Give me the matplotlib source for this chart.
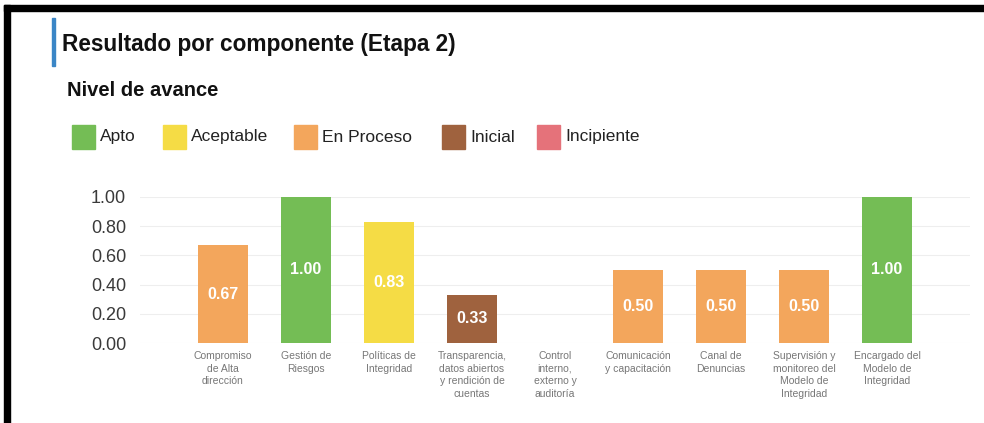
import matplotlib
matplotlib.use("Agg")
import matplotlib.pyplot as plt
from matplotlib.patches import Rectangle

W, H = 984, 423
categories = ["Compromiso\nde Alta\ndirección", "Gestión de\nRiesgos", "Políticas de\nIntegridad",
              "Transparencia,\ndatos abiertos\ny rendición de\ncuentas", "Control\ninterno,\nexterno y\nauditoría",
              "Comunicación\ny capacitación", "Canal de\nDenuncias",
              "Supervisión y\nmonitoreo del\nModelo de\nIntegridad", "Encargado del\nModelo de\nIntegridad"]
values = [0.67, 1.00, 0.83, 0.33, 0.0, 0.50, 0.50, 0.50, 1.00]
levels = ["En Proceso", "Apto", "Aceptable", "Inicial", "Incipiente", "En Proceso", "En Proceso", "En Proceso", "Apto"]
legend_labels = ["Apto", "Aceptable", "En Proceso", "Inicial", "Incipiente"]
legend_colors = ["#74bd55", "#f5dc45", "#f3a65c", "#9f623e", "#e5727a"]
yticks = [0.0, 0.2, 0.4, 0.6, 0.8, 1.0]
color_map = dict(zip(legend_labels, legend_colors))

plt.rcParams['font.family'] = ['Liberation Sans', 'DejaVu Sans']
fig = plt.figure(figsize=(W / 100, H / 100), dpi=100)

def fx(x):
    return x / W

def fy(y):
    return 1 - y / H

# scan border
fig.patches.append(Rectangle((fx(4), fy(11)), fx(980), 6 / H, transform=fig.transFigure,
                             color="black", zorder=10))
fig.patches.append(Rectangle((fx(4), 0), 6 / W, fy(5), transform=fig.transFigure,
                             color="black", zorder=10))
# blue accent
fig.patches.append(Rectangle((fx(52), fy(66)), 3 / W, 48 / H, transform=fig.transFigure,
                             color="#3b86c6", zorder=10))

fig.text(fx(62), fy(45), "Resultado por componente (Etapa 2)", fontsize=16.3, fontweight="bold",
         va="center", ha="left", color="#111111")
fig.text(fx(67), fy(90), "Nivel de avance", fontsize=14.5, fontweight="bold",
         va="center", ha="left", color="#111111")

# legend
leg_x = [72, 163, 294, 442, 537]
for lx, lab, col in zip(leg_x, legend_labels, legend_colors):
    fig.patches.append(Rectangle((fx(lx), fy(149)), 23 / W, 24 / H, transform=fig.transFigure,
                                 color=col))
    fig.text(fx(lx + 28), fy(137), lab, fontsize=12.5, va="center", ha="left", color="#222222")

ax = fig.add_axes([fx(140), fy(343), fx(970) - fx(140), (343 - 197) / H])
x = list(range(len(categories)))
colors = [color_map[l] for l in levels]
bars = ax.bar(x, values, width=0.6, color=colors, zorder=2)
for xi, v in zip(x, values):
    if v > 0:
        ax.text(xi, v / 2, f"{v:.2f}", ha="center", va="center", color="white",
                fontsize=11.5, fontweight="bold", zorder=3)

ax.set_xlim(-1.0, 9.0)
ax.set_ylim(0, 1.0)
ax.set_yticks(yticks)
ax.set_yticklabels([f"{t:.2f}" for t in yticks], fontsize=13, color="#3a3a3a")
ax.set_xticks(x)
ax.set_xticklabels(categories, fontsize=7.5, color="#777777", linespacing=1.3)
ax.tick_params(axis="both", length=0)
ax.tick_params(axis="y", pad=10)
ax.tick_params(axis="x", pad=6)
for s in ax.spines.values():
    s.set_visible(False)
ax.grid(axis="y", color="#eeeeee", linewidth=0.8, zorder=0)
ax.set_axisbelow(True)

fig.savefig("out.png", dpi=100)
